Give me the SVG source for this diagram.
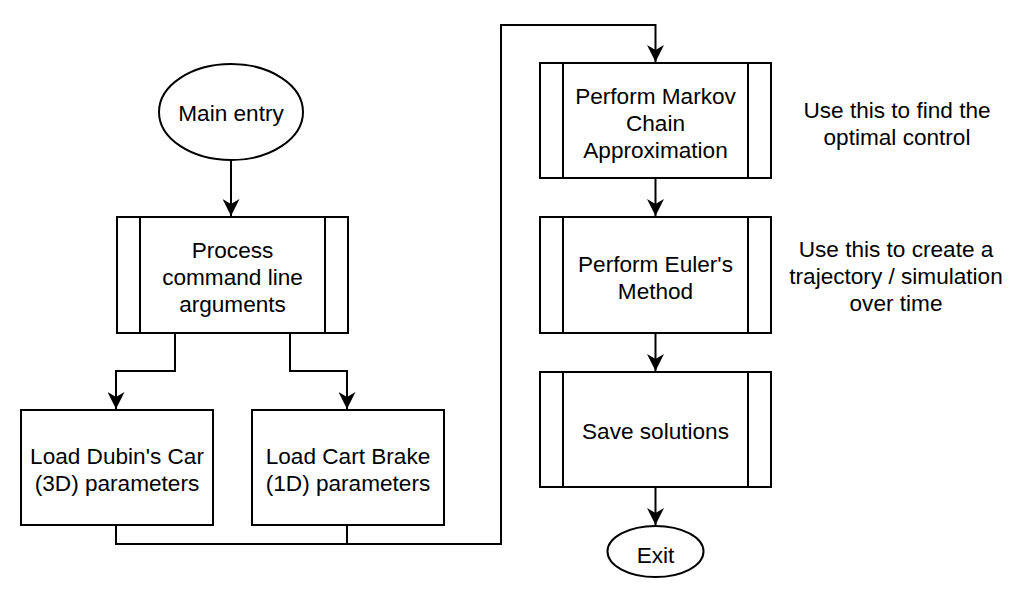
<svg xmlns="http://www.w3.org/2000/svg" width="1020" height="594" viewBox="0 0 1020 594">
<defs>
<marker id="arr" viewBox="0 0 17 17" refX="17" refY="8.5" markerWidth="17" markerHeight="17" markerUnits="userSpaceOnUse" orient="auto">
<path d="M0,0 L17,8.5 L0,17 L5,8.5 Z" fill="#000"/>
</marker>
<style>
.s{fill:#fff;stroke:#000;stroke-width:2}
.l{fill:none;stroke:#000;stroke-width:2}
.c{fill:none;stroke:#000;stroke-width:2;marker-end:url(#arr)}
text{font-family:"Liberation Sans",Arial,sans-serif;font-size:22.6px;fill:#000;text-anchor:middle}
</style>
</defs>
<rect width="1020" height="594" fill="#fff"/>
<g id="connectors">
<path class="c" d="M231,160 V216"/>
<path class="c" d="M175,333 V371 H116 V409"/>
<path class="c" d="M290,333 V371 H347 V409"/>
<path class="l" d="M116,525 V544 H501"/>
<path class="c" d="M347,525 V544 H501 V25 H655.5 V62"/>
<path class="c" d="M655.5,178 V216"/>
<path class="c" d="M655.5,333 V371"/>
<path class="c" d="M655.5,487 V525"/>
</g>
<g id="main-entry">
<ellipse class="s" cx="231" cy="112" rx="72" ry="48"/>
<text x="231" y="121">Main entry</text>
</g>
<g id="process-args">
<rect class="s" x="117" y="217" width="231" height="116"/>
<path class="l" d="M140,217 V333 M325,217 V333"/>
<text x="232.5" y="258">Process</text>
<text x="232.5" y="285">command line</text>
<text x="232.5" y="312">arguments</text>
</g>
<g id="load-dubin">
<rect class="s" x="21" y="410" width="192" height="115"/>
<text x="117" y="464">Load Dubin's Car</text>
<text x="117" y="491">(3D) parameters</text>
</g>
<g id="load-cart">
<rect class="s" x="252" y="410" width="192" height="115"/>
<text x="348" y="464">Load Cart Brake</text>
<text x="348" y="491">(1D) parameters</text>
</g>
<g id="markov">
<rect class="s" x="540" y="63" width="231" height="115"/>
<path class="l" d="M563,63 V178 M748,63 V178"/>
<text x="655.5" y="104">Perform Markov</text>
<text x="655.5" y="131">Chain</text>
<text x="655.5" y="158">Approximation</text>
</g>
<g id="euler">
<rect class="s" x="540" y="217" width="231" height="116"/>
<path class="l" d="M563,217 V333 M748,217 V333"/>
<text x="655.5" y="272">Perform Euler's</text>
<text x="655.5" y="299">Method</text>
</g>
<g id="save">
<rect class="s" x="540" y="372" width="231" height="115"/>
<path class="l" d="M563,372 V487 M748,372 V487"/>
<text x="655.5" y="439">Save solutions</text>
</g>
<g id="exit">
<ellipse class="s" cx="655.5" cy="551.5" rx="48" ry="25.5"/>
<text x="655.5" y="563">Exit</text>
</g>
<g id="note-markov">
<text x="897" y="118">Use this to find the</text>
<text x="897" y="145">optimal control</text>
</g>
<g id="note-euler">
<text x="896" y="257">Use this to create a</text>
<text x="896" y="284">trajectory / simulation</text>
<text x="896" y="311">over time</text>
</g>
</svg>
